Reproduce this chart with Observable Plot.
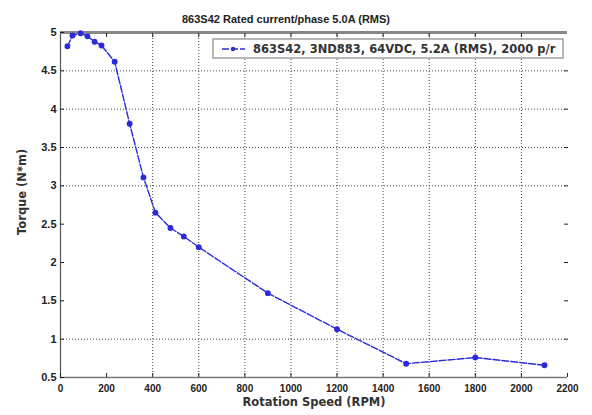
<!DOCTYPE html>
<html>
<head>
<meta charset="utf-8">
<script src="https://cdn.jsdelivr.net/npm/d3@7"></script>
<script src="https://cdn.jsdelivr.net/npm/@observablehq/plot@0.6"></script>
<style>
  html, body { margin: 0; padding: 0; background: #fff; }
  #chart { width: 592px; height: 415px; }
  svg { font-family: "Liberation Sans", Arial, sans-serif; }
</style>
</head>
<body>
<div id="chart"></div>
<script>
const titleText = "863S42 Rated current/phase 5.0A (RMS)";
const seriesName = "863S42, 3ND883, 64VDC, 5.2A (RMS), 2000 p/r";
const xLabel = "Rotation Speed (RPM)";
const yLabel = "Torque (N*m)";

const speed  = [30, 52, 87, 117, 148, 178, 235, 300, 360, 412, 477, 535, 600, 900, 1200, 1500, 1800, 2100];
const torque = [4.82, 4.96, 4.99, 4.95, 4.88, 4.83, 4.62, 3.81, 3.11, 2.65, 2.45, 2.34, 2.2, 1.6, 1.13, 0.68, 0.76, 0.66];

const xTicks = [0, 200, 400, 600, 800, 1000, 1200, 1400, 1600, 1800, 2000, 2200];
const yTicks = [0.5, 1, 1.5, 2, 2.5, 3, 3.5, 4, 4.5, 5];
const xGrid = [400, 600, 800, 1000, 1200, 1400, 1600, 1800, 2000];
const yGrid = [1, 3, 3.5, 4, 4.5];

const data = speed.map((s, i) => ({speed: s, torque: torque[i]}));
const blue = "#2b2bdc";
const wideFont = "DejaVu Sans, Verdana, sans-serif";

const plot = Plot.plot({
  width: 592,
  height: 415,
  marginLeft: 60,
  marginRight: 25,
  marginTop: 32,
  marginBottom: 38,
  style: {fontFamily: "Liberation Sans, Arial, sans-serif", fontSize: "10px", color: "#222"},
  x: {domain: [0, 2200]},
  y: {domain: [0.5, 5]},
  marks: [
    Plot.ruleX(xGrid, {stroke: "#444", strokeWidth: 1, strokeDasharray: "1,2"}),
    Plot.ruleY(yGrid, {stroke: "#444", strokeWidth: 1, strokeDasharray: "1,2"}),
    Plot.ruleX([0], {stroke: "#555", strokeWidth: 1.2}),
    Plot.ruleY([0.5], {stroke: "#777", strokeWidth: 1.5}),
    Plot.ruleY([5], {stroke: "#888", strokeWidth: 3}),
    Plot.axisX(xTicks, {tickSize: -4, tickPadding: 11, tickFormat: d => String(d), fontWeight: "bold", fontSize: 10, label: null}),
    Plot.axisX(xTicks.slice(1, -1), {anchor: "top", tickSize: -4, tickFormat: () => "", label: null}),
    Plot.axisY(yTicks, {tickSize: -4, tickPadding: 8, tickFormat: d => String(d), fontWeight: "bold", fontSize: 11, label: null}),
    Plot.axisY(yTicks.slice(1, -1), {anchor: "right", tickSize: -4, tickFormat: () => "", label: null}),
    Plot.line(data, {x: "speed", y: "torque", stroke: blue, strokeWidth: 1.4, strokeDasharray: "7,2"}),
    Plot.dot(data, {x: "speed", y: "torque", r: 2.2, fill: blue, stroke: blue}),
    Plot.text([titleText], {frameAnchor: "top", dx: -28, dy: -17, fontWeight: "bold", fontSize: 11, fill: "#222"}),
    Plot.text([xLabel], {frameAnchor: "bottom", dy: 28, fontWeight: "bold", fontSize: 11.5, fontFamily: wideFont, fill: "#333"}),
    Plot.text([yLabel], {frameAnchor: "left", dx: -38, dy: 30, rotate: -90, fontWeight: "bold", fontSize: 11.5, fontFamily: wideFont, fill: "#333"})
  ]
});

document.getElementById("chart").appendChild(plot);

// legend box (top-right, inside axes)
const svg = d3.select(plot);
const lg = svg.append("g").attr("transform", "translate(213,39)");
lg.append("rect").attr("width", 350).attr("height", 19)
  .attr("fill", "#fff").attr("stroke", "#888").attr("stroke-width", 1.2);
lg.append("line").attr("x1", 9).attr("x2", 32).attr("y1", 10).attr("y2", 10)
  .attr("stroke", blue).attr("stroke-width", 1.4).attr("stroke-dasharray", "7,2");
lg.append("circle").attr("cx", 20).attr("cy", 10).attr("r", 2.2).attr("fill", blue);
lg.append("text").attr("x", 40).attr("y", 14)
  .attr("text-anchor", "start")
  .attr("font-size", 11.5).attr("font-weight", "bold").attr("fill", "#333")
  .attr("font-family", wideFont)
  .text(seriesName);
</script>
</body>
</html>
